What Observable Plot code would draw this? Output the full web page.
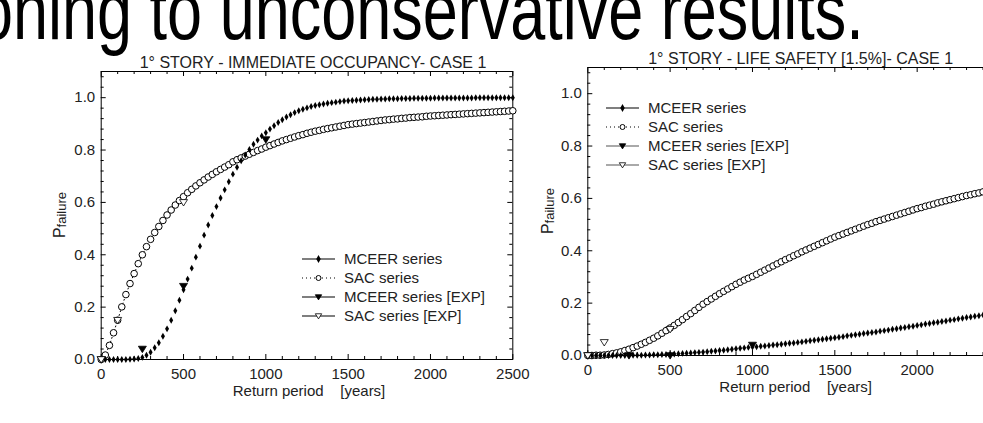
<!DOCTYPE html>
<html><head><meta charset="utf-8">
<script src="https://cdn.jsdelivr.net/npm/d3@7"></script>
<script src="https://cdn.jsdelivr.net/npm/@observablehq/plot@0.6"></script>
<style>
html,body{margin:0;padding:0;background:#fff;overflow:hidden;width:983px;height:423px;}
#root{position:relative;width:983px;height:423px;overflow:hidden;font-family:"Liberation Sans",Arial,sans-serif;}
.panel{position:absolute;top:0;}
#headline{position:absolute;left:0;top:0;}
</style></head><body><div id="root"></div>
<script>
const headline = "oning to unconservative results.";
const titles = ["1° STORY - IMMEDIATE OCCUPANCY- CASE 1", "1° STORY - LIFE SAFETY [1.5%]- CASE 1"];
const xLabel = "Return period\u00a0\u00a0\u00a0 [years]";
const yLabelMain = "P";
const yLabelSub = "failure";
const seriesNames = ["MCEER series", "SAC series", "MCEER series [EXP]", "SAC series [EXP]"];

const xMajor = [0, 500, 1000, 1500, 2000, 2500];
const xMinor = [100, 200, 300, 400, 600, 700, 800, 900, 1100, 1200, 1300, 1400, 1600, 1700, 1800, 1900, 2100, 2200, 2300, 2400];
const yMajor = [0, 0.2, 0.4, 0.6, 0.8, 1.0];
const yMinor = [0.04, 0.08, 0.12, 0.16, 0.24, 0.28, 0.32, 0.36, 0.44, 0.48, 0.52, 0.56, 0.64, 0.68, 0.72, 0.76, 0.84, 0.88, 0.92, 0.96, 1.04, 1.08];

const years = [0,25,50,75,100,125,150,175,200,225,250,275,300,325,350,375,400,425,450,475,500,525,550,575,600,625,650,675,700,725,750,775,800,825,850,875,900,925,950,975,1000,1025,1050,1075,1100,1125,1150,1175,1200,1225,1250,1275,1300,1325,1350,1375,1400,1425,1450,1475,1500,1525,1550,1575,1600,1625,1650,1675,1700,1725,1750,1775,1800,1825,1850,1875,1900,1925,1950,1975,2000,2025,2050,2075,2100,2125,2150,2175,2200,2225,2250,2275,2300,2325,2350,2375,2400,2425,2450,2475,2500];

// Immediate occupancy (left)
const mceerIO = [0,0,0,0,0,0,0,0.001,0.002,0.004,0.008,0.016,0.028,0.045,0.064,0.089,0.117,0.150,0.186,0.226,0.266,0.307,0.349,0.391,0.433,0.475,0.514,0.550,0.584,0.617,0.648,0.679,0.708,0.734,0.759,0.781,0.802,0.822,0.838,0.854,0.866,0.880,0.893,0.905,0.916,0.926,0.935,0.943,0.950,0.956,0.961,0.966,0.970,0.973,0.976,0.979,0.981,0.983,0.985,0.987,0.988,0.989,0.990,0.991,0.992,0.993,0.994,0.994,0.995,0.995,0.996,0.996,0.996,0.997,0.997,0.997,0.998,0.998,0.998,0.998,0.998,0.999,0.999,0.999,0.999,0.999,0.999,0.999,0.999,0.999,0.999,1.0,1.0,1.0,1.0,1.0,1.0,1.0,1.0,1.0,1.0];
const sacIO = [0,0.017,0.054,0.102,0.150,0.201,0.248,0.290,0.328,0.366,0.400,0.431,0.459,0.485,0.508,0.531,0.552,0.571,0.590,0.607,0.622,0.637,0.650,0.663,0.675,0.686,0.697,0.707,0.717,0.726,0.735,0.744,0.755,0.763,0.770,0.777,0.784,0.791,0.798,0.804,0.811,0.817,0.823,0.829,0.835,0.840,0.845,0.850,0.855,0.859,0.864,0.868,0.872,0.875,0.879,0.882,0.885,0.888,0.891,0.894,0.897,0.899,0.901,0.903,0.905,0.907,0.909,0.911,0.913,0.915,0.916,0.918,0.919,0.921,0.922,0.924,0.925,0.926,0.927,0.929,0.930,0.931,0.932,0.933,0.934,0.935,0.936,0.937,0.938,0.939,0.940,0.941,0.942,0.943,0.944,0.945,0.946,0.947,0.948,0.949,0.950];
const mceerExpIOYears = [0, 250, 500, 1000];
const mceerExpIO = [0, 0.04, 0.28, 0.84];
const sacExpIOYears = [0, 100, 500];
const sacExpIO = [0, 0.15, 0.60];

// Life safety (right)
const mceerLS = [0,0,0,0,0,0,0,0,0,0,0.001,0.001,0.001,0.001,0.002,0.002,0.003,0.003,0.004,0.004,0.005,0.006,0.007,0.008,0.009,0.010,0.011,0.012,0.013,0.014,0.016,0.017,0.019,0.020,0.022,0.024,0.026,0.028,0.029,0.031,0.032,0.033,0.035,0.036,0.038,0.040,0.041,0.043,0.045,0.047,0.048,0.050,0.052,0.054,0.056,0.058,0.060,0.062,0.064,0.066,0.068,0.070,0.072,0.075,0.077,0.079,0.081,0.084,0.086,0.088,0.090,0.093,0.095,0.097,0.100,0.102,0.105,0.107,0.110,0.112,0.115,0.117,0.120,0.122,0.125,0.127,0.130,0.132,0.135,0.137,0.140,0.142,0.145,0.147,0.150,0.152,0.155,0.157,0.159,0.162,0.164];
const sacLS = [0,0,0.001,0.001,0.002,0.004,0.007,0.010,0.014,0.019,0.024,0.030,0.036,0.043,0.050,0.058,0.066,0.075,0.085,0.095,0.105,0.115,0.126,0.137,0.149,0.160,0.172,0.184,0.196,0.206,0.216,0.226,0.236,0.245,0.254,0.263,0.272,0.280,0.288,0.295,0.302,0.310,0.318,0.326,0.334,0.342,0.350,0.358,0.366,0.373,0.381,0.388,0.396,0.403,0.410,0.417,0.424,0.431,0.438,0.445,0.452,0.458,0.464,0.470,0.476,0.482,0.488,0.494,0.500,0.505,0.511,0.516,0.521,0.526,0.531,0.536,0.541,0.546,0.551,0.556,0.561,0.565,0.570,0.574,0.578,0.583,0.587,0.591,0.595,0.599,0.603,0.607,0.611,0.614,0.618,0.621,0.625,0.628,0.632,0.635,0.638];
const mceerExpLSYears = [0, 250, 500, 1000];
const mceerExpLS = [0, 0.0, 0.0, 0.04];
const sacExpLSYears = [0, 100, 500];
const sacExpLS = [0, 0.05, 0.10];

const pts = (xs, ys) => xs.map((x, i) => ({x, y: ys[i]}));

const triDown = {
  draw(context, size) {
    const r = Math.sqrt(size / Math.PI);
    context.moveTo(-r, -r * 0.7);
    context.lineTo(r, -r * 0.7);
    context.lineTo(0, r * 0.9);
    context.closePath();
  }
};

const FONT = "'Liberation Sans', Arial, sans-serif";
const root = document.getElementById("root");

// headline (slide text, cropped at the top)
const hsvg = d3.select(root).append("svg").attr("id", "headline").attr("width", 983).attr("height", 70);
hsvg.append("text").attr("transform", "translate(-22,39) scale(1,1.3)")
  .attr("font-family", FONT).attr("font-size", 63).attr("fill", "#000").text(headline);

function panel(cfg) {
  const W = cfg.width, H = 423;
  const FW = W - cfg.ml - cfg.mr, FH = H - cfg.mt - cfg.mb;
  const sac = pts(years, cfg.sac), mceer = pts(years, cfg.mceer);
  const mExp = pts(cfg.mExpX, cfg.mExp), sExp = pts(cfg.sExpX, cfg.sExp);
  const ink = "#222";
  const svg = Plot.plot({
    width: W, height: H,
    marginLeft: cfg.ml, marginRight: cfg.mr, marginTop: cfg.mt, marginBottom: cfg.mb,
    style: {fontFamily: FONT, background: "transparent", overflow: "visible"},
    x: {domain: [0, 2500], axis: null},
    y: {domain: [0, 1.1], axis: null},
    marks: [
      Plot.frame({stroke: "#000", strokeWidth: 1}),
      // inward ticks on all four sides
      Plot.ruleX(xMajor, {x: d => d, insetTop: FH - 5, stroke: "#000"}),
      Plot.ruleX(xMinor, {x: d => d, insetTop: FH - 3, stroke: "#000"}),
      Plot.ruleX(xMajor, {x: d => d, insetBottom: FH - 5, stroke: "#000"}),
      Plot.ruleX(xMinor, {x: d => d, insetBottom: FH - 3, stroke: "#000"}),
      Plot.ruleY(yMajor, {y: d => d, insetRight: FW - 5, stroke: "#000"}),
      Plot.ruleY(yMinor, {y: d => d, insetRight: FW - 3, stroke: "#000"}),
      Plot.ruleY(yMajor, {y: d => d, insetLeft: FW - 5, stroke: "#000"}),
      Plot.ruleY(yMinor, {y: d => d, insetLeft: FW - 3, stroke: "#000"}),
      // tick labels
      Plot.text(xMajor, {x: d => d, text: d => String(d), frameAnchor: "bottom", lineAnchor: "top", dy: 9, fontSize: 15, fill: ink}),
      Plot.text(yMajor, {y: d => d, text: d => d.toFixed(1), frameAnchor: "left", textAnchor: "end", dx: -6, fontSize: 15, fill: ink}),
      // title & x label
      Plot.text([cfg.title], {text: d => d, frameAnchor: "top", lineAnchor: "bottom", dy: -4, dx: cfg.titleDx, fontSize: 16, fill: ink}),
      Plot.text([xLabel], {text: d => d, frameAnchor: "bottom", lineAnchor: "top", dy: 26, dx: 2, fontSize: 15, fill: ink}),
      // data
      Plot.line(sac, {x: "x", y: "y", stroke: "#000", strokeWidth: 1, strokeDasharray: "1,3"}),
      Plot.dot(sac, {x: "x", y: "y", r: 3.3, fill: "#fff", stroke: "#000", strokeWidth: 1}),
      Plot.dot(mceer, {x: "x", y: "y", r: 2.1, symbol: "diamond", fill: "#000", stroke: "none"}),
      Plot.dot(mExp, {x: "x", y: "y", r: 4, symbol: triDown, fill: "#000", stroke: "#000", strokeWidth: 0.8}),
      Plot.dot(sExp, {x: "x", y: "y", r: 4, symbol: triDown, fill: "#fff", stroke: "#000", strokeWidth: 0.8})
    ]
  });
  svg.classList.add("panel");
  svg.style.left = cfg.left + "px";
  svg.style.position = "absolute";
  root.appendChild(svg);

  const s = d3.select(svg);
  // y label "Pfailure"
  const yl = s.append("text")
    .attr("transform", `translate(${cfg.ml - cfg.ylOff},${cfg.mt + FH / 2}) rotate(-90)`)
    .attr("text-anchor", "middle").attr("font-family", FONT).attr("fill", ink);
  yl.append("tspan").attr("font-size", 16).text(yLabelMain);
  yl.append("tspan").attr("font-size", 13).attr("dy", 1).text(yLabelSub);

  // legend
  const lg = s.append("g").attr("font-family", FONT).attr("text-anchor", "start");
  const styles = [
    {dash: null, stroke: "#000", sym: "diamond"},
    {dash: "1,3", stroke: "#000", sym: "circle"},
    {dash: null, stroke: cfg.expLine, sym: "triFill"},
    {dash: null, stroke: cfg.expLine, sym: "triOpen"}
  ];
  seriesNames.forEach((name, i) => {
    const y = cfg.legY + i * cfg.legStep;
    const st = styles[i];
    const [x0, x1] = cfg.legX;
    const xm = (x0 + x1) / 2;
    lg.append("line").attr("x1", x0).attr("x2", x1).attr("y1", y).attr("y2", y)
      .attr("stroke", st.stroke).attr("stroke-width", 1.2).attr("stroke-dasharray", st.dash);
    if (st.sym === "diamond") {
      lg.append("path").attr("d", d3.symbol(d3.symbolDiamond, 18)()).attr("transform", `translate(${xm},${y})`).attr("fill", "#000");
    } else if (st.sym === "circle") {
      lg.append("circle").attr("cx", xm).attr("cy", y).attr("r", 2.5).attr("fill", "#fff").attr("stroke", "#000");
    } else {
      const p = d3.path();
      triDown.draw(p, Math.PI * 3.2 * 3.2);
      lg.append("path").attr("d", p.toString()).attr("transform", `translate(${xm},${y})`)
        .attr("fill", st.sym === "triFill" ? "#000" : "#fff").attr("stroke", "#000").attr("stroke-width", 0.8);
    }
    lg.append("text").attr("x", x1 + 9).attr("y", y).attr("dy", "0.35em").attr("text-anchor", "start")
      .attr("font-size", 15).attr("fill", ink).text(name);
  });
}

panel({left: 0, width: 520, ml: 100.7, mr: 7.7, mt: 71, mb: 64, title: titles[0], titleDx: 6,
  sac: sacIO, mceer: mceerIO, mExpX: mceerExpIOYears, mExp: mceerExpIO, sExpX: sacExpIOYears, sExp: sacExpIO,
  ylOff: 36, legX: [302, 335], legY: 259, legStep: 19, expLine: "#000"});
panel({left: 520, width: 520, ml: 67.3, mr: 41, mt: 67, mb: 68, title: titles[1], titleDx: 7,
  sac: sacLS, mceer: mceerLS, mExpX: mceerExpLSYears, mExp: mceerExpLS, sExpX: sacExpLSYears, sExp: sacExpLS,
  ylOff: 34, legX: [86, 119], legY: 108, legStep: 19, expLine: "#555"});
</script>
</body></html>
